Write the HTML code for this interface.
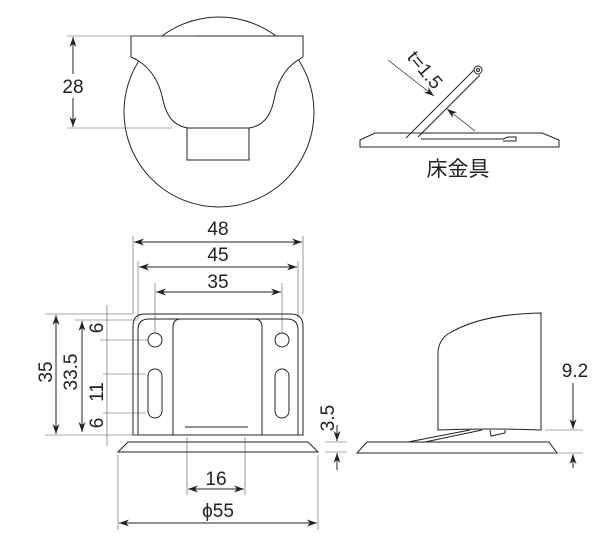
<!DOCTYPE html>
<html><head><meta charset="utf-8"><style>
html,body{margin:0;padding:0;background:#fff;}
svg{display:block;}
text{font-family:"Liberation Sans","Noto Sans CJK JP",sans-serif;fill:#222;}
</style></head><body>
<svg width="600" height="543" viewBox="0 0 600 543" xmlns="http://www.w3.org/2000/svg">
<defs>
<marker id="a" viewBox="0 0 10 10" refX="10" refY="5" markerUnits="userSpaceOnUse" markerWidth="10" markerHeight="10" orient="auto-start-reverse"><path d="M0,1.5 L10,5 L0,8.5 L3,5z" fill="#222"/></marker>
</defs>
<g fill="none" stroke="#222" stroke-width="1">
<circle cx="219" cy="112" r="95"/>
<path d="M131,36 L303,36 L303,57 L298,60 C282,70 276,88 274,100 C270,118 262,126 249,128 L188,128 C175,126 167,118 163,100 C160,86 154,70 137,60 L131,57 Z" fill="#fff"/>
<rect x="187" y="128" width="62" height="32" fill="#fff"/>
<g stroke-width="0.6" stroke="#555">
<line x1="67" y1="36" x2="195" y2="36"/><line x1="67" y1="128" x2="172" y2="128"/>
</g>
<line x1="73" y1="37" x2="73" y2="74" marker-start="url(#a)"/>
<line x1="73" y1="98" x2="73" y2="127" marker-end="url(#a)"/>
<path d="M360,140 L375,133 L542,133 L559,140 L559,147 L360,147 Z"/>
<path d="M421,139 L503,139 L508,137 L516,137 L516,141 L508,141 L503,141"/>
<line x1="406" y1="138" x2="474" y2="70"/><line x1="418" y1="137" x2="480" y2="75"/>
<circle cx="478" cy="70" r="4"/><circle cx="478" cy="70" r="1.5"/>
<line x1="388" y1="60" x2="434" y2="96" stroke-width="0.7" marker-end="url(#a)"/>
<line x1="475" y1="131" x2="447" y2="109" stroke-width="0.7" marker-end="url(#a)"/>
<path d="M133,435 L133,326 Q133,314 145,314 L291,314 Q303,314 303,326 L303,435 Z"/>
<path d="M138,435 L138,330 Q138,319 149,319 L287,319 Q298,319 298,330 L298,435"/>
<path d="M173,435 L173,327 Q173,319 181,319 L254,319 Q262,319 262,327 L262,435"/>
<line x1="185" y1="427" x2="248" y2="427"/>
<circle cx="155" cy="340" r="7"/><circle cx="282" cy="340" r="7"/>
<rect x="148" y="369" width="14" height="49" rx="7"/><rect x="275" y="369" width="14" height="49" rx="7"/>
<path d="M128,442 L308,442 L318,452 L118,452 Z"/>
<g stroke-width="0.6" stroke="#555">
<line x1="133" y1="236" x2="133" y2="314"/><line x1="303" y1="236" x2="303" y2="314"/>
<line x1="138" y1="261" x2="138" y2="319"/><line x1="298" y1="261" x2="298" y2="319"/>
<line x1="155" y1="283" x2="155" y2="333"/><line x1="282" y1="283" x2="282" y2="333"/>
<line x1="45" y1="314" x2="133" y2="314"/><line x1="75" y1="320" x2="138" y2="320"/><line x1="45" y1="435" x2="140" y2="435"/>
<line x1="107" y1="305" x2="107" y2="446"/>
<line x1="100" y1="340" x2="148" y2="340"/><line x1="103" y1="374" x2="146" y2="374"/><line x1="103" y1="413" x2="146" y2="413"/>
<line x1="187" y1="437" x2="187" y2="495"/><line x1="245" y1="437" x2="245" y2="495"/>
<line x1="118" y1="455" x2="118" y2="530"/><line x1="318" y1="455" x2="318" y2="530"/>
<line x1="325" y1="442" x2="347" y2="442"/><line x1="325" y1="452" x2="347" y2="452"/>
</g>
<line x1="134" y1="242" x2="302" y2="242" marker-start="url(#a)" marker-end="url(#a)"/>
<line x1="139" y1="267" x2="297" y2="267" marker-start="url(#a)" marker-end="url(#a)"/>
<line x1="156" y1="292" x2="281" y2="292" marker-start="url(#a)" marker-end="url(#a)"/>
<line x1="56" y1="315" x2="56" y2="434" marker-start="url(#a)" marker-end="url(#a)"/>
<line x1="82" y1="321" x2="82" y2="432" marker-start="url(#a)" marker-end="url(#a)"/>
<line x1="188" y1="489" x2="244" y2="489" marker-start="url(#a)" marker-end="url(#a)"/>
<line x1="119" y1="523" x2="317" y2="523" marker-start="url(#a)" marker-end="url(#a)"/>
<line x1="337" y1="425" x2="337" y2="441" marker-end="url(#a)"/>
<line x1="337" y1="470" x2="337" y2="453" marker-end="url(#a)"/>
<path d="M438,430 L438,352 Q439,340 448,334 Q480,314 541,313 L541,430 Q490,428 438,430 Z"/>
<path d="M367,442 L549,442 L557,453 L357,453 Z"/>
<line x1="408" y1="442" x2="470" y2="430"/><line x1="425" y1="442" x2="482" y2="430"/>
<path d="M490,430 L491,436 L505,433 L505,430"/>
<g stroke-width="0.6" stroke="#555">
<line x1="545" y1="430" x2="583" y2="430"/><line x1="553" y1="453" x2="583" y2="453"/>
</g>
<line x1="573" y1="383" x2="573" y2="429" marker-end="url(#a)"/>
<line x1="573" y1="468" x2="573" y2="454" marker-end="url(#a)"/>
</g>
<g font-size="19">
<text x="73" y="93" text-anchor="middle">28</text>
<text x="218" y="235" text-anchor="middle">48</text>
<text x="218" y="261" text-anchor="middle">45</text>
<text x="218" y="288" text-anchor="middle">35</text>
<text x="216" y="485" text-anchor="middle">16</text>
<text x="218" y="517" text-anchor="middle">ϕ55</text>
<text x="575" y="377" text-anchor="middle">9.2</text>
<text transform="translate(52,372) rotate(-90)" text-anchor="middle">35</text>
<text transform="translate(77,372) rotate(-90)" text-anchor="middle">33.5</text>
<text transform="translate(103,328) rotate(-90)" text-anchor="middle">6</text>
<text transform="translate(103,392) rotate(-90)" text-anchor="middle">11</text>
<text transform="translate(103,423) rotate(-90)" text-anchor="middle">6</text>
<text transform="translate(334,418) rotate(-90)" text-anchor="middle">3.5</text>
<text transform="translate(420,74) rotate(50)" text-anchor="middle">t=1.5</text>
</g>
<text x="458" y="176" font-size="21" text-anchor="middle">床金具</text>
</svg>
</body></html>
